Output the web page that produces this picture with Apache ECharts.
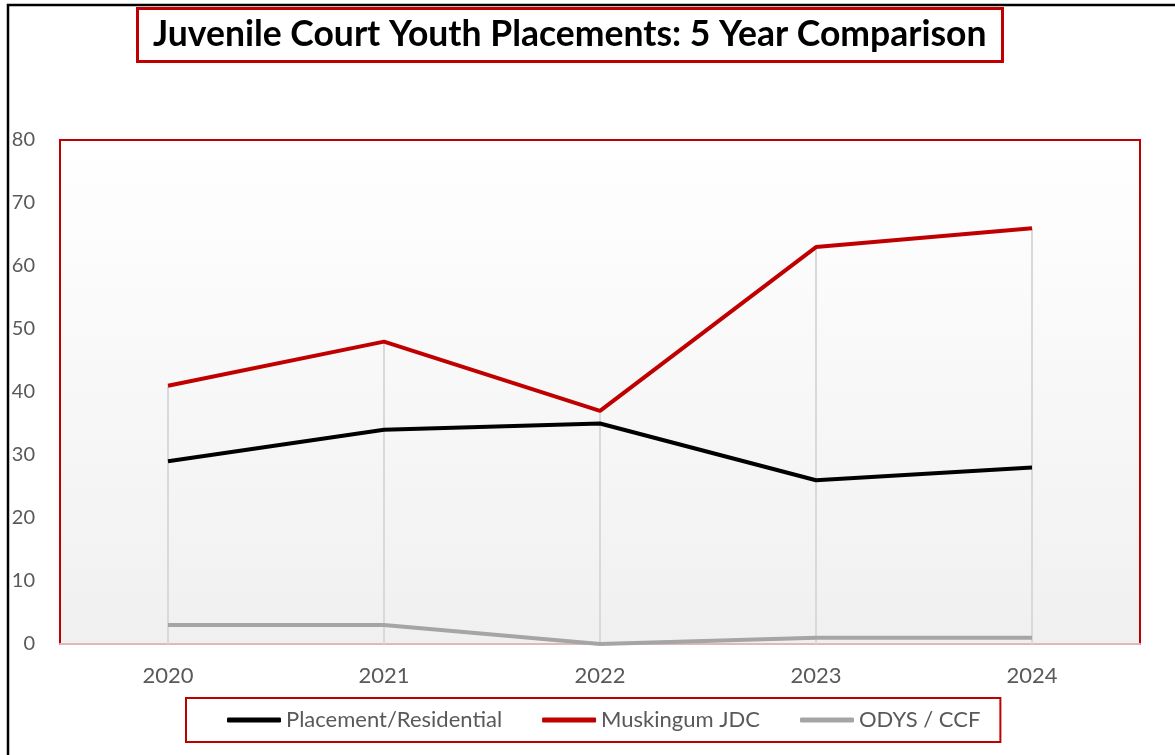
<!DOCTYPE html>
<html>
<head>
<meta charset="utf-8">
<script src="https://cdn.jsdelivr.net/npm/echarts@6/dist/echarts.min.js"></script>
<style>
  html, body { margin: 0; padding: 0; background: #fff; }
  #container { width: 1175px; height: 755px; }
</style>
</head>
<body>
<div id="container"></div>
<script>
const years = ['2020', '2021', '2022', '2023', '2024'];
const placement = [29, 34, 35, 26, 28];
const muskingum = [41, 48, 37, 63, 66];
const odys = [3, 3, 0, 1, 1];
const seriesNames = ['Placement/Residential', 'Muskingum JDC', 'ODYS / CCF'];

// drop lines go from the highest point of each year down to the axis
const dropTops = years.map((y, i) => Math.max(placement[i], muskingum[i], odys[i]));

const FONT = 'Lato';
const chart = echarts.init(document.getElementById('container'), null, { renderer: 'canvas' });

const option = {
  animation: false,
  title: {
    text: 'Juvenile Court Youth Placements: 5 Year Comparison',
    left: 137,
    top: 8,
    padding: [9, 16, 9, 16],
    borderColor: '#c00000',
    borderWidth: 3,
    textStyle: { fontFamily: FONT, fontWeight: 'bold', fontSize: 35.5, color: '#000' }
  },
  graphic: [{
    type: 'rect',
    shape: { x: 8, y: 5, width: 1400, height: 1000 },
    style: { fill: 'none', stroke: '#000', lineWidth: 2.5 },
    silent: true,
    z: 100
  }],
  legend: {
    data: seriesNames,
    left: 186,
    top: 698,
    padding: [11, 20, 11, 41],
    borderColor: '#c00000',
    borderWidth: 2,
    itemGap: 40,
    itemWidth: 54,
    itemHeight: 5,
    icon: 'roundRect',
    textStyle: { fontFamily: FONT, fontSize: 22, color: '#595959' }
  },
  grid: {
    left: 60,
    right: 35,
    top: 140,
    bottom: 111,
    show: true,
    borderColor: '#c00000',
    borderWidth: 2,
    backgroundColor: new echarts.graphic.LinearGradient(0, 0, 0, 1, [
      { offset: 0, color: '#ffffff' },
      { offset: 1, color: '#f0f0f0' }
    ])
  },
  xAxis: {
    type: 'category',
    data: years,
    boundaryGap: true,
    axisLine: { lineStyle: { color: '#e0b8b8', width: 2 } },
    axisTick: { show: false },
    axisLabel: { fontFamily: FONT, fontSize: 22, color: '#595959', margin: 21 },
    splitLine: { show: false }
  },
  yAxis: {
    type: 'value',
    min: 0,
    max: 80,
    interval: 10,
    axisLine: { show: false },
    axisTick: { show: false },
    splitLine: { show: false },
    axisLabel: { fontFamily: FONT, fontSize: 20, color: '#595959', margin: 25 }
  },
  series: [
    {
      name: 'drop',
      type: 'bar',
      data: dropTops,
      barWidth: 2,
      itemStyle: { color: '#d9d9d9' },
      silent: true,
      z: 1
    },
    {
      name: seriesNames[0],
      type: 'line',
      data: placement,
      symbol: 'none',
      lineStyle: { color: '#000000', width: 4 },
      itemStyle: { color: '#000000' },
      z: 3
    },
    {
      name: seriesNames[1],
      type: 'line',
      data: muskingum,
      symbol: 'none',
      lineStyle: { color: '#c00000', width: 4 },
      itemStyle: { color: '#c00000' },
      z: 3
    },
    {
      name: seriesNames[2],
      type: 'line',
      data: odys,
      symbol: 'none',
      lineStyle: { color: '#a5a5a5', width: 4 },
      itemStyle: { color: '#a5a5a5' },
      z: 3
    }
  ]
};

chart.setOption(option);
window.addEventListener('resize', chart.resize);
</script>
</body>
</html>
